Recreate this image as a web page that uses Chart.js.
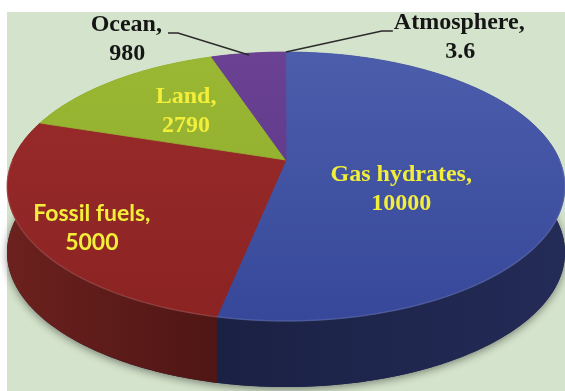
<!DOCTYPE html>
<html>
<head>
<meta charset="utf-8">
<script src="https://cdn.jsdelivr.net/npm/chart.js@4"></script>
<style>
  html, body { margin: 0; padding: 0; background: #fff; }
  canvas { display: block; }
</style>
</head>
<body>
<canvas id="carbonChart" width="565" height="391"></canvas>
<script>
// carbon reservoirs (values as printed on the chart)
const categories = ["Gas hydrates", "Fossil fuels", "Land", "Ocean", "Atmosphere"];
const values = [10000, 5000, 2790, 980, 3.6];

// styles
const topLight = ["#4b5dab", "#9b2c2b", "#9bb834", "#6a4193", "#5a4a9e"];
const topDark = ["#37489a", "#8b2323", "#8ba92a", "#5b3586", "#4a3f90"];
const sideLight = ["#1b2144", "#6c211e", "#6a8420", "#432660", "#2c2a55"];
const sideDark = ["#232b57", "#4e1614", "#5a7019", "#3a2053", "#24244c"];

// tilted disc: centre, radii, perspective, thickness (px)
const view = { cx: 286, cy: 186.5, rx: 279, ry: 134.5, k: -0.197, depth: 66 };

const serif = 'bold 24px "Liberation Serif"';
const sans = 'bold 23px Lato';
const labelLayout = [
  { f: 0.42, dy: 24, font: serif, color: "#f2ee3a" },
  { f: 0.76, dy: 14, font: sans, color: "#f2ee3a" },
  { f: 0.55, dy: -2, font: serif, color: "#f2ee3a" },
  { out: -1, f: 0.98, elbow: [-71, -22], run: 10, font: serif, color: "#151515" },
  { out: 1, f: 1.0, elbow: [96, -21], run: 11, font: serif, color: "#151515" },
];

function project(u, v, dz) {
  const d = 1 + view.k * v;
  const s = Math.sqrt(1 - view.k * view.k);
  return [view.cx + view.rx * s * u / d, view.cy + view.ry * (v + view.k) / d + (dz || 0)];
}

function rim(a, f, dz) {
  return project(f * Math.cos(a), f * Math.sin(a), dz);
}

function steps(a0, a1) {
  return Math.max(2, Math.ceil(Math.abs(a1 - a0) / 0.01));
}

const panel = {
  id: "panel",
  beforeDraw(chart) {
    const ctx = chart.ctx;
    ctx.save();
    ctx.fillStyle = "#d4e3cb";
    ctx.fillRect(7, 12, chart.width - 7, chart.height - 12);
    ctx.restore();
  },
};

const pie3d = {
  id: "pie3d",
  beforeDatasetsDraw(chart) {
    const ctx = chart.ctx;
    const arcs = chart.getDatasetMeta(0).data;
    ctx.save();

    // soft shadow under the disc
    ctx.beginPath();
    for (let i = 0; i <= 360; i++) {
      const p = rim((i / 180) * Math.PI, 1, view.depth);
      i ? ctx.lineTo(p[0], p[1]) : ctx.moveTo(p[0], p[1]);
    }
    ctx.closePath();
    ctx.shadowColor = "rgba(0,0,0,0.45)";
    ctx.shadowBlur = 8;
    ctx.shadowOffsetY = 2;
    ctx.fillStyle = "#1d2346";
    ctx.fill();
    ctx.shadowColor = "transparent";

    // sides
    arcs.forEach((arc, i) => {
      const a0 = arc.startAngle, a1 = arc.endAngle;
      const n = steps(a0, a1);
      const top = [], xs = [];
      for (let t = 0; t <= n; t++) {
        const a = a0 + ((a1 - a0) * t) / n;
        const p = rim(a, 1, 0);
        top.push(p);
        if (Math.sin(a) > -0.2) xs.push(p[0]);
      }
      const x0 = xs.length ? Math.min(...xs) : 0;
      const x1 = xs.length ? Math.max(...xs) : 1;
      const g = ctx.createLinearGradient(x0, 0, Math.max(x1, x0 + 1), 0);
      g.addColorStop(0, sideLight[i]);
      g.addColorStop(1, sideDark[i]);
      ctx.beginPath();
      top.forEach((p, j) => (j ? ctx.lineTo(p[0], p[1]) : ctx.moveTo(p[0], p[1])));
      for (let j = top.length - 1; j >= 0; j--) ctx.lineTo(top[j][0], top[j][1] + view.depth);
      ctx.closePath();
      ctx.fillStyle = g;
      ctx.fill();
    });

    // top face
    arcs.forEach((arc, i) => {
      const a0 = arc.startAngle, a1 = arc.endAngle;
      const n = steps(a0, a1);
      const g = ctx.createLinearGradient(0, view.cy - view.ry, 0, view.cy + view.ry);
      g.addColorStop(0, topLight[i]);
      g.addColorStop(1, topDark[i]);
      const c = project(0, 0);
      ctx.beginPath();
      ctx.moveTo(c[0], c[1]);
      for (let t = 0; t <= n; t++) {
        const p = rim(a0 + ((a1 - a0) * t) / n, 1, 0);
        ctx.lineTo(p[0], p[1]);
      }
      ctx.closePath();
      ctx.fillStyle = g;
      ctx.fill();
      if (a1 - a0 > 0.02) {
        ctx.strokeStyle = g;
        ctx.lineWidth = 0.8;
        ctx.stroke();
      }
    });

    // faint highlight on the front rim
    ctx.beginPath();
    for (let i = 0; i <= 180; i++) {
      const p = rim((i / 180) * Math.PI, 1, 0);
      i ? ctx.lineTo(p[0], p[1]) : ctx.moveTo(p[0], p[1]);
    }
    ctx.strokeStyle = "rgba(255,255,255,0.12)";
    ctx.lineWidth = 1.5;
    ctx.stroke();

    ctx.restore();
    return false;
  },
  afterDraw(chart) {
    const ctx = chart.ctx;
    const arcs = chart.getDatasetMeta(0).data;
    ctx.save();
    ctx.textBaseline = "middle";
    arcs.forEach((arc, i) => {
      const L = labelLayout[i];
      const mid = (arc.startAngle + arc.endAngle) / 2;
      const line1 = categories[i] + ",";
      const line2 = String(values[i]);
      ctx.font = L.font;
      ctx.fillStyle = L.color;
      ctx.textAlign = "center";
      const p = rim(mid, L.f, 0);
      if (!L.out) {
        const y = p[1] + L.dy;
        ctx.fillText(line1, p[0], y - 14.5);
        ctx.fillText(line2, p[0], y + 14.5);
      } else {
        const e = [p[0] + L.elbow[0], p[1] + L.elbow[1]];
        const q = [e[0] + L.out * L.run, e[1]];
        ctx.beginPath();
        ctx.moveTo(p[0], p[1]);
        ctx.lineTo(e[0], e[1]);
        ctx.lineTo(q[0], q[1]);
        ctx.strokeStyle = "#2a2a2a";
        ctx.lineWidth = 1.4;
        ctx.stroke();
        const w1 = ctx.measureText(line1).width;
        const cx = L.out < 0 ? q[0] - 6 - w1 / 2 : q[0] + 1 + w1 / 2;
        ctx.fillText(line1, cx, e[1] - 8);
        ctx.fillText(line2, cx + 1, e[1] + 21);
      }
    });
    ctx.restore();
  },
};

new Chart(document.getElementById("carbonChart"), {
  type: "pie",
  data: {
    labels: categories,
    datasets: [{ data: values, backgroundColor: topLight, borderWidth: 0 }],
  },
  options: {
    responsive: false,
    animation: false,
    events: [],
    plugins: { legend: { display: false }, tooltip: { enabled: false } },
  },
  plugins: [panel, pie3d],
});
</script>
</body>
</html>
